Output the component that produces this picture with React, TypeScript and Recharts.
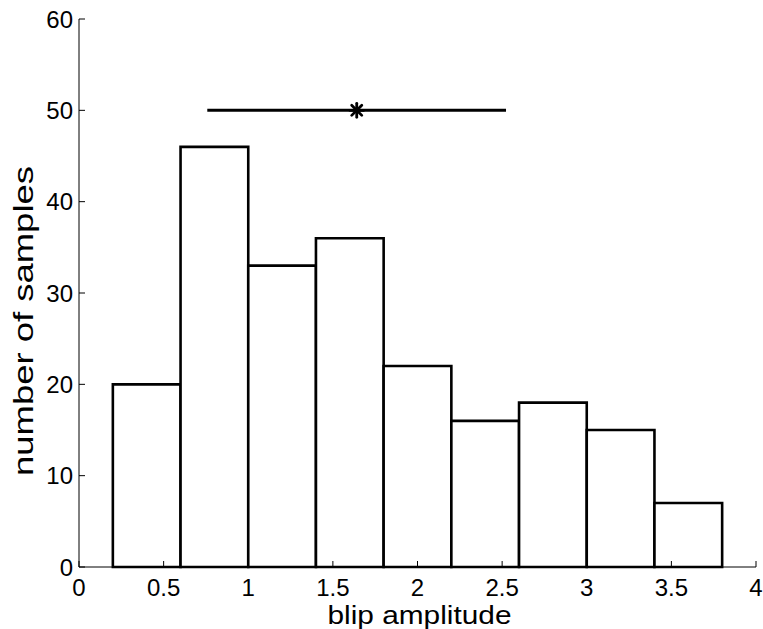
import { ComposedChart, XAxis, YAxis, ReferenceArea, Line, Scatter, Label } from 'recharts'

// histogram bins (edges) and counts per bin
const binEdges = [0.2, 0.6, 1.0, 1.4, 1.8, 2.2, 2.6, 3.0, 3.4, 3.8]
const counts = [20, 46, 33, 36, 22, 16, 18, 15, 7]

// mean marker and its spread line
const spreadX = [0.758, 2.523]
const meanX = 1.641
const meanY = 50

const xTicks = [0, 0.5, 1, 1.5, 2, 2.5, 3, 3.5, 4]
const yTicks = [0, 10, 20, 30, 40, 50, 60]

const spreadData = spreadX.map((x) => ({ x, y: meanY }))
const meanData = [{ x: meanX, y: meanY }]

const font = 'Liberation Sans, Arial, Helvetica, sans-serif'
const tickStyle = { fontSize: 24, fill: '#000', fontFamily: font }

const Asterisk = (props: any) => {
  const { cx, cy } = props
  const r = 7
  const d = r * 0.72
  return (
    <g stroke="#000" strokeWidth={2.8} strokeLinecap="round">
      <line x1={cx - r} y1={cy} x2={cx + r} y2={cy} />
      <line x1={cx} y1={cy - r} x2={cx} y2={cy + r} />
      <line x1={cx - d} y1={cy - d} x2={cx + d} y2={cy + d} />
      <line x1={cx - d} y1={cy + d} x2={cx + d} y2={cy - d} />
    </g>
  )
}

const XTitle = (props: any) => {
  const vb = props.viewBox
  return (
    <text
      x={vb.x + vb.width / 2 + 2}
      y={vb.y + 57}
      textAnchor="middle"
      fontSize={25}
      fontFamily={font}
      fill="#000"
      textLength={184}
      lengthAdjust="spacingAndGlyphs"
    >
      blip amplitude
    </text>
  )
}

const YTitle = () => {
  const cx = 33
  const cy = 321
  return (
    <text
      x={cx}
      y={cy}
      transform={`rotate(-90, ${cx}, ${cy})`}
      textAnchor="middle"
      fontSize={27}
      fontFamily={font}
      fill="#000"
      textLength={310}
      lengthAdjust="spacingAndGlyphs"
    >
      number of samples
    </text>
  )
}

const NoLabel = () => <g />

export default function App() {
  return (
    <div style={{ position: 'absolute', left: 0, top: 0, background: '#fff' }}>
      <ComposedChart
        width={763}
        height={629}
        margin={{ top: 19, right: 7, left: 0, bottom: 0 }}
        style={{ fontFamily: font }}
      >
        <XAxis
          dataKey="x"
          type="number"
          domain={[0, 4]}
          ticks={xTicks}
          interval={0}
          height={62}
          tickSize={-6}
          tickMargin={18}
          axisLine={{ stroke: '#000', strokeWidth: 1 }}
          tickLine={{ stroke: '#000' }}
          tick={tickStyle}
          allowDataOverflow
        >
          <Label content={XTitle} />
        </XAxis>
        <XAxis
          xAxisId="top"
          orientation="top"
          type="number"
          domain={[0, 4]}
          ticks={xTicks}
          interval={0}
          height={0}
          tickSize={-6}
          axisLine={{ stroke: '#000', strokeWidth: 1 }}
          tickLine={{ stroke: '#000' }}
          tick={NoLabel}
        />
        <YAxis
          type="number"
          domain={[0, 60]}
          ticks={yTicks}
          interval={0}
          width={79}
          tickSize={-6}
          tickMargin={12}
          axisLine={{ stroke: '#000', strokeWidth: 1 }}
          tickLine={{ stroke: '#000' }}
          tick={tickStyle}
          allowDataOverflow
        >
          <Label content={YTitle} />
        </YAxis>
        <YAxis
          yAxisId="right"
          orientation="right"
          type="number"
          domain={[0, 60]}
          ticks={yTicks}
          interval={0}
          width={0}
          tickSize={-6}
          axisLine={{ stroke: '#000', strokeWidth: 1 }}
          tickLine={{ stroke: '#000' }}
          tick={NoLabel}
        />

        {counts.map((c, i) => (
          <ReferenceArea
            key={i}
            x1={binEdges[i]}
            x2={binEdges[i + 1]}
            y1={0}
            y2={c}
            fill="#fff"
            fillOpacity={1}
            stroke="#000"
            strokeWidth={2.6}
            ifOverflow="visible"
          />
        ))}

        <Line
          data={spreadData}
          dataKey="y"
          stroke="#000"
          strokeWidth={3}
          dot={false}
          activeDot={false}
          isAnimationActive={false}
        />
        <Scatter data={meanData} dataKey="y" shape={Asterisk} isAnimationActive={false} />
      </ComposedChart>
    </div>
  )
}
